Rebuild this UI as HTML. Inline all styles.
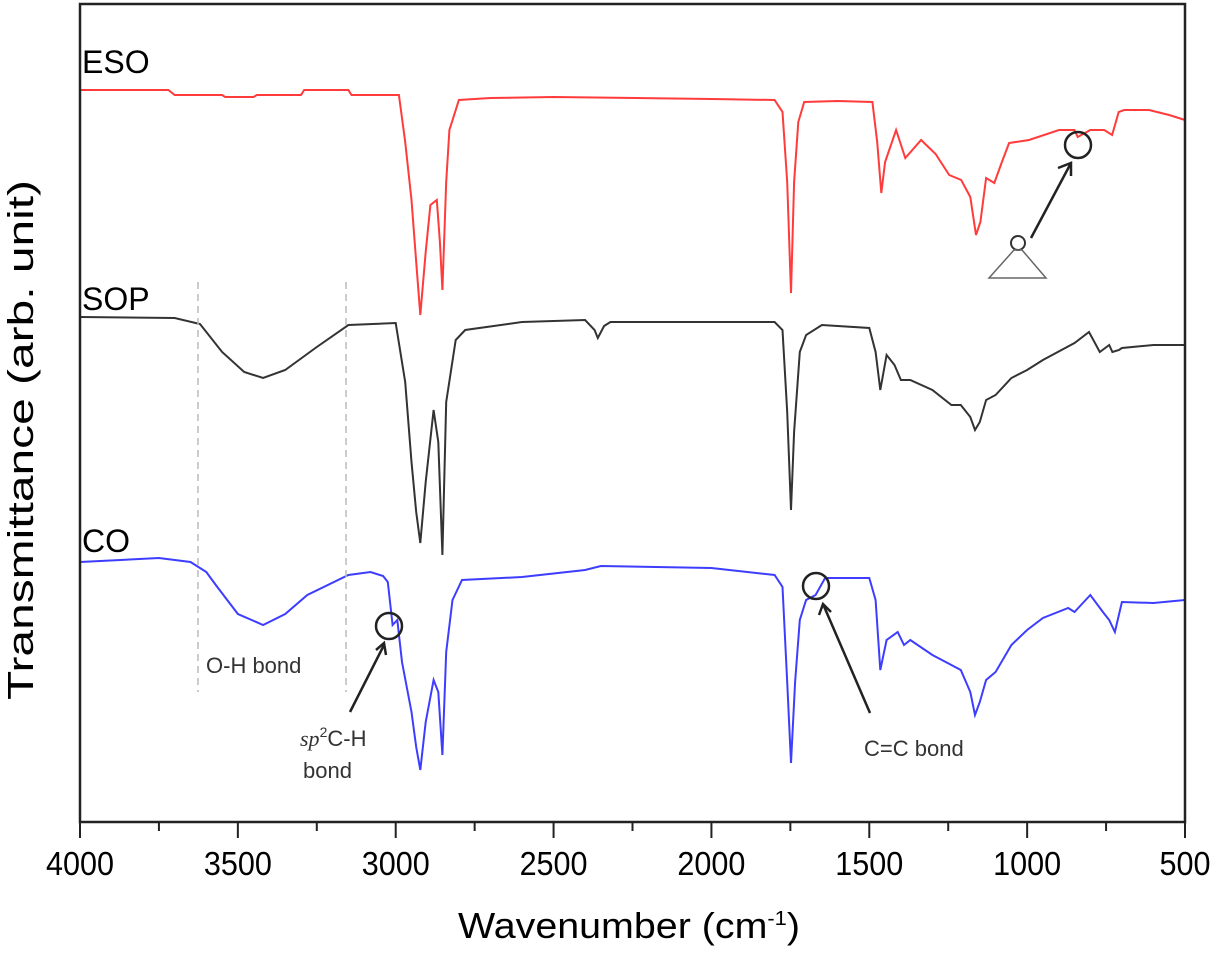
<!DOCTYPE html>
<html><head><meta charset="utf-8"><style>
html,body{margin:0;padding:0;background:#fff;width:1213px;height:955px;overflow:hidden}
svg text{font-family:"Liberation Sans",Arial,sans-serif}
</style></head><body>
<svg id="chart" width="1213" height="955" viewBox="0 0 1213 955" xmlns="http://www.w3.org/2000/svg">
<g id="series"></g>
<rect x="80" y="4" width="1105" height="818" fill="none" stroke="#222" stroke-width="2.5"/>
<g id="xaxis"></g>
<text x="458" y="938" font-size="36" textLength="342" lengthAdjust="spacingAndGlyphs">Wavenumber (cm<tspan dy="-13" font-size="20">-1</tspan><tspan dy="13">)</tspan></text>
<text transform="translate(33,440) rotate(-90)" font-size="36" text-anchor="middle" textLength="520" lengthAdjust="spacingAndGlyphs">Transmittance (arb. unit)</text>
<text x="82" y="73" font-size="32">ESO</text>
<text x="82" y="310" font-size="32">SOP</text>
<text x="82" y="552" font-size="32">CO</text>
<line x1="198" y1="282" x2="198" y2="692" stroke="#bbb" stroke-width="1.5" stroke-dasharray="7,5"/>
<line x1="346" y1="282" x2="346" y2="692" stroke="#bbb" stroke-width="1.5" stroke-dasharray="7,5"/>
<text x="206" y="673" font-size="22" fill="#333">O-H bond</text>
<g fill="none" stroke="#222" stroke-width="2.5">
<circle cx="389" cy="626" r="13"/>
<line x1="350" y1="712" x2="384" y2="645"/>
<polyline points="376,650 384,643 386,655"/>
</g>
<text x="300" y="746" font-size="22" fill="#333"><tspan font-family="Liberation Serif" font-style="italic">sp</tspan><tspan dy="-9" font-size="14">2</tspan><tspan dy="9">C-H</tspan></text>
<text x="303" y="778" font-size="22" fill="#333">bond</text>
<g fill="none" stroke="#222" stroke-width="2.5">
<circle cx="816" cy="586" r="13"/>
<line x1="870" y1="713" x2="823" y2="604"/>
<polyline points="819,615 823,604 831,612"/>
</g>
<text x="864" y="756" font-size="22" fill="#333">C=C bond</text>
<g fill="none">
<circle cx="1018" cy="243" r="7" stroke="#333" stroke-width="2"/>
<polygon points="1014,250 989,278 1046,278 1022,250" stroke="#666" stroke-width="1.5"/>
<circle cx="1078" cy="145" r="13" stroke="#222" stroke-width="2.5"/>
<line x1="1031" y1="238" x2="1071" y2="163" stroke="#222" stroke-width="2.5"/>
<polyline points="1058,168 1071,163 1071,176" stroke="#222" stroke-width="2.5"/>
</g>
</svg>
<script>
// data: [wavenumber, transmittance (arb.)]
const xTicks=[4000,3500,3000,2500,2000,1500,1000,500];
const xMinor=[3750,3250,2750,2250,1750,1250,750];
const esoData=[[4000,792],[3720,792],[3700,787],[3550,787],[3540,785],[3450,785],[3440,787],[3300,787],[3290,792],[3150,792],[3140,787],[2990,787],[2970,740],[2950,682],[2935,620],[2922,567],[2905,630],[2890,677],[2870,682],[2860,640],[2852,592],[2840,700],[2830,752],[2800,782],[2700,784],[2500,785],[2000,783],[1800,782],[1775,770],[1760,700],[1748,589],[1738,700],[1725,760],[1706,780],[1600,781],[1490,780],[1475,740],[1462,689],[1450,720],[1415,752],[1386,724],[1336,742],[1290,728],[1247,707],[1209,702],[1180,685],[1162,647],[1148,660],[1130,704],[1104,699],[1080,720],[1057,739],[994,742],[899,752],[850,752],[840,745],[800,752],[756,752],[731,747],[710,770],[693,772],[614,772],[550,767],[500,762]];
const sopData=[[4000,565],[3700,564],[3620,558],[3550,530],[3480,510],[3420,504],[3350,512],[3250,535],[3150,557],[3000,559],[2970,500],[2950,420],[2935,370],[2922,339],[2905,400],[2880,472],[2865,440],[2852,327],[2840,480],[2810,542],[2780,552],[2600,560],[2400,562],[2370,552],[2360,544],[2340,556],[2320,560],[2000,560],[1800,560],[1775,552],[1760,470],[1748,372],[1738,450],[1720,530],[1700,547],[1650,557],[1500,554],[1480,530],[1465,492],[1445,527],[1420,517],[1400,502],[1370,502],[1300,492],[1240,477],[1210,477],[1180,465],[1165,452],[1150,460],[1130,482],[1100,487],[1050,504],[1000,512],[950,522],[850,539],[804,550],[770,530],[740,537],[730,530],[709,532],[700,534],[600,537],[500,537]];
const coData=[[4000,320],[3750,324],[3650,320],[3600,310],[3570,297],[3500,268],[3420,257],[3350,268],[3280,287],[3150,307],[3080,310],[3040,306],[3025,300],[3010,257],[2995,262],[2980,220],[2950,170],[2935,135],[2922,112],[2905,160],[2880,202],[2865,190],[2852,127],[2840,230],[2820,282],[2790,302],[2600,305],[2400,312],[2350,316],[2000,314],[1800,307],[1775,295],[1760,200],[1748,119],[1735,200],[1720,262],[1700,282],[1670,287],[1640,304],[1500,304],[1480,282],[1465,212],[1445,242],[1410,250],[1390,237],[1370,242],[1300,227],[1240,217],[1210,212],[1180,190],[1165,167],[1150,180],[1130,202],[1100,210],[1050,237],[1000,252],[950,264],[870,274],[850,270],[800,287],[760,270],[740,262],[722,250],[700,280],[600,279],[500,282]];
const seriesNames=['eso-spectrum','sop-spectrum','co-spectrum'];
const seriesColors=['#ff3b3b','#333333','#3d3dff'];
const seriesList=[esoData,sopData,coData];

const X0=80,X1=1185,W0=4000,W1=500,AXY=822,YREF=882;
function xs(w){return X0+(W0-w)*(X1-X0)/(W0-W1);}
function ys(v){return YREF-v;}
const NS='http://www.w3.org/2000/svg';
const g=document.getElementById('series');
seriesList.forEach((d,i)=>{
  const p=document.createElementNS(NS,'path');
  p.setAttribute('d',d.map((pt,j)=>(j?'L':'M')+xs(pt[0]).toFixed(1)+','+ys(pt[1]).toFixed(1)).join(''));
  p.setAttribute('fill','none');p.setAttribute('stroke',seriesColors[i]);p.setAttribute('stroke-width','2');
  
  
  g.appendChild(p);
});
const ax=document.getElementById('xaxis');
xTicks.forEach(t=>{
  const l=document.createElementNS(NS,'line');
  l.setAttribute('x1',xs(t));l.setAttribute('x2',xs(t));l.setAttribute('y1',AXY);l.setAttribute('y2',AXY+16);
  l.setAttribute('stroke','#222');l.setAttribute('stroke-width','2');
  
  
  ax.appendChild(l);
  const s=String(t), len=17*s.length;
  const tx=document.createElementNS(NS,'text');
  tx.setAttribute('x',xs(t)-len/2);tx.setAttribute('y',AXY+53);tx.setAttribute('font-size','33');
  tx.setAttribute('textLength',len);tx.setAttribute('lengthAdjust','spacingAndGlyphs');
  tx.textContent=s;
  
  
  ax.appendChild(tx);
});
xMinor.forEach(t=>{
  const l=document.createElementNS(NS,'line');
  l.setAttribute('x1',xs(t));l.setAttribute('x2',xs(t));l.setAttribute('y1',AXY);l.setAttribute('y2',AXY+9);
  l.setAttribute('stroke','#222');l.setAttribute('stroke-width','2');
  
  
  ax.appendChild(l);
});
</script>
</body></html>
